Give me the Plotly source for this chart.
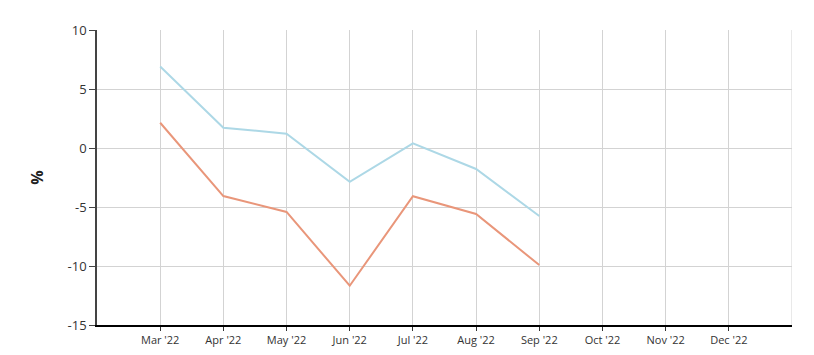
import plotly.graph_objects as go

months = ["Mar '22", "Apr '22", "May '22", "Jun '22", "Jul '22", "Aug '22",
          "Sep '22", "Oct '22", "Nov '22", "Dec '22"]
series_blue = [6.9, 1.72, 1.21, -2.86, 0.40, -1.78, -5.76]
series_orange = [2.14, -4.07, -5.42, -11.67, -4.09, -5.59, -9.92]
y_ticks = [-15, -10, -5, 0, 5, 10]
y_tick_labels = ["-15", "-10", "-5", "0", "5", "10"]

xpos = list(range(len(months)))

fig = go.Figure()
fig.add_trace(go.Scatter(x=xpos[:len(series_blue)], y=series_blue, mode="lines",
                         line=dict(color="#add8e6", width=2), showlegend=False))
fig.add_trace(go.Scatter(x=xpos[:len(series_orange)], y=series_orange, mode="lines",
                         line=dict(color="#e9967a", width=2), showlegend=False))

fig.add_shape(type="line", xref="x", yref="paper", x0=len(months), x1=len(months),
              y0=0, y1=1, line=dict(color="#d3d3d3", width=1), layer="below")

fig.update_layout(
    width=814, height=355,
    margin=dict(l=97, r=22, t=30, b=30),
    paper_bgcolor="white", plot_bgcolor="white",
    font=dict(family="Open Sans, DejaVu Sans, sans-serif", color="#333"),
    xaxis=dict(range=[-1, len(months)], tickvals=xpos, ticktext=months,
               showgrid=True, gridcolor="#d3d3d3", gridwidth=1,
               showline=True, linecolor="black", linewidth=1.5,
               ticks="outside", ticklen=4, tickcolor="#333",
               tickfont=dict(size=11, color="#333"), zeroline=False,
               automargin=False),
    yaxis=dict(range=[-15, 10], tickvals=y_ticks, ticktext=y_tick_labels,
               showgrid=True, gridcolor="#d3d3d3", gridwidth=1,
               showline=True, linecolor="#444", linewidth=1.5,
               ticks="outside", ticklen=6, tickcolor="#444",
               tickfont=dict(size=13, color="#333"), zeroline=False,
               automargin=False,
               title=dict(text="<b>%</b>", font=dict(size=16, color="#222"), standoff=20)),
)

fig.write_html("out.html")
